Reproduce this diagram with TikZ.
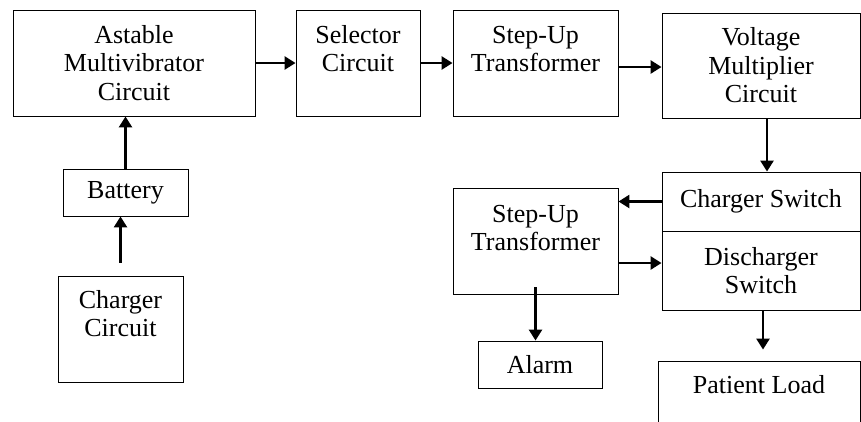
\documentclass[tikz,border=0pt]{standalone}
\usepackage{fontspec}
\setmainfont{Liberation Serif}
\usetikzlibrary{arrows.meta}

\begin{document}
\begin{tikzpicture}[x=1pt, y=-1pt,
	blk/.style={draw, line width=0.9pt, align=center, inner sep=0pt,
		font={\fontsize{26pt}{28.5pt}\selectfont}},
	topblk/.style={blk, text height=61.5pt, text depth=44.5pt},
	arr/.style={line width=2.6pt, -{Triangle[length=11pt, width=13pt]}}]
	\useasboundingbox (0,0) rectangle (861,421);
	% top row
	\node[blk, minimum width=242pt, minimum height=106pt] (astable) at (134,63) {Astable\\Multivibrator\\Circuit};
	\node[topblk, minimum width=124pt] (selector) at (358,63) {Selector\\Circuit};
	\node[topblk, minimum width=165pt] (stepupA) at (535.5,63) {Step-Up\\Transformer};
	\node[blk, minimum width=198pt, minimum height=105pt] (voltage) at (761,65.5) {Voltage\\Multiplier\\Circuit};
	% supply
	\node[blk, minimum width=125pt, minimum height=47pt] (battery) at (125.5,192.5) {Battery};
	\node[topblk, minimum width=125pt, text height=60.5pt, text depth=45.5pt] (charger) at (120.5,329) {Charger\\Circuit};
	% switches
	\node[blk, minimum width=198pt, minimum height=59pt] (chgswitch) at (761,201.5) {Charger Switch};
	\node[blk, minimum width=198pt, minimum height=79pt] (dischswitch) at (761,270.5) {Discharger\\Switch};
	\node[topblk, minimum width=165pt, text height=62.5pt, text depth=43.5pt] (stepupB) at (535.5,241) {Step-Up\\Transformer};
	\node[blk, minimum width=124pt, minimum height=47pt] (alarm) at (540,364.5) {Alarm};
	\node[blk, minimum width=202pt, text height=32pt, text depth=74pt] (patient) at (759,414) {Patient Load};
	% arrows
	\draw[arr] (astable) -- (selector);
	\draw[arr] (selector) -- (stepupA);
	\draw[arr] ([yshift=-4pt]stepupA.east) -- ([yshift=-4pt]stepupA.east -| voltage.west);
	\draw[arr] (battery.north) -- (battery.north |- astable.south);
	\draw[arr, shorten <=13pt] (charger.north) -- (charger.north |- battery.south);
	\draw[arr] ([xshift=6pt]voltage.south) -- ([xshift=6pt]voltage.south |- chgswitch.north);
	\draw[arr] (chgswitch.west) -- (chgswitch.west -| stepupB.east);
	\draw[arr] ([yshift=-22pt]stepupB.east) -- ([yshift=-22pt]stepupB.east -| dischswitch.west);
	\draw[arr] ([yshift=7pt]stepupB.south) -- (stepupB.south |- alarm.north);
	\draw[arr, shorten >=11pt] ([xshift=2pt]dischswitch.south) -- ([xshift=2pt]dischswitch.south |- patient.north);
\end{tikzpicture}
\end{document}
